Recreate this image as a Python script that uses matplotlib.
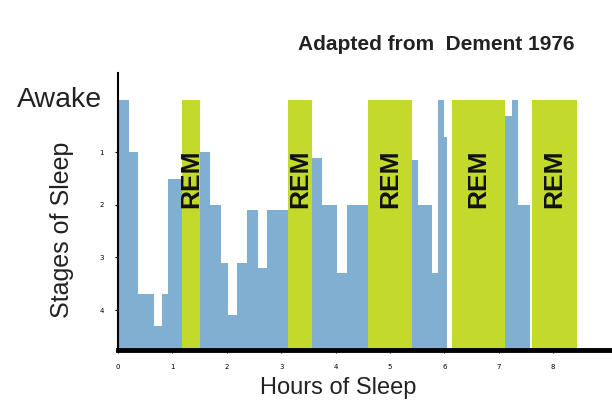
import matplotlib.pyplot as plt
import numpy as np

# sleep stage trace (hours) -- blue bars
nrem_edges = [0.0, 0.2, 0.37, 0.66, 0.81, 0.92, 1.18]
nrem_stage = [0.0, 1.0, 3.7, 4.3, 3.7, 1.5]
nrem_edges2 = [1.51, 1.69, 1.89, 2.02, 2.19, 2.37, 2.57, 2.74, 3.12]
nrem_stage2 = [1.0, 2.0, 3.1, 4.1, 3.1, 2.1, 3.2, 2.1]
nrem_edges3 = [3.57, 3.75, 4.03, 4.21, 4.6]
nrem_stage3 = [1.1, 2.0, 3.3, 2.0]
nrem_edges4 = [5.4, 5.51, 5.77, 5.88, 5.99, 6.05]
nrem_stage4 = [1.15, 2.0, 3.3, 0.0, 0.7]
nrem_edges5 = [7.11, 7.24, 7.35, 7.57]
nrem_stage5 = [0.3, 0.0, 2.0]

# REM periods (start, end)
rem_start = [1.18, 3.12, 4.6, 6.14, 7.61]
rem_end = [1.51, 3.57, 5.4, 7.11, 8.44]

stage_ticks = [0, 1, 2, 3, 4]
stage_labels = ['Awake', '1', '2', '3', '4']
hour_ticks = [0, 1, 2, 3, 4, 5, 6, 7, 8]

BLUE = '#80afd2'
GREEN = '#c3d92b'
BOTTOM = 4.76

fig = plt.figure(figsize=(6.12, 4.03), dpi=100)
ax = fig.add_axes([118/612, 53/403, 1 - 118/612, 277/403])

for edges, stages in [(nrem_edges, nrem_stage), (nrem_edges2, nrem_stage2),
                      (nrem_edges3, nrem_stage3), (nrem_edges4, nrem_stage4),
                      (nrem_edges5, nrem_stage5)]:
    e = np.array(edges)
    s = np.array(stages)
    ax.bar(e[:-1], s - BOTTOM, width=np.diff(e), bottom=BOTTOM, align='edge',
           color=BLUE, linewidth=0)

rs = np.array(rem_start)
re = np.array(rem_end)
ax.bar(rs, 0 - BOTTOM, width=re - rs, bottom=BOTTOM, align='edge', color=GREEN, linewidth=0)
for a, b in zip(rs, re):
    ax.text((a + b) / 2, 1.5, 'REM', rotation=90, ha='center', va='center',
            fontsize=19, fontweight='bold', family='Liberation Sans', color='#111111')

ax.set_xlim(0, 9.08)
ax.set_ylim(BOTTOM, -0.51)

ax.set_yticks(stage_ticks[1:])
ax.set_yticklabels(stage_labels[1:], fontsize=5)
ax.tick_params(axis='y', length=2, width=0.8, pad=8)
ax.text(-0.3, 0, stage_labels[0], ha='right', va='center', fontsize=20.5,
        family='Liberation Sans', color='#222222')

ax.set_xticks(hour_ticks)
ax.set_xticklabels([str(h) for h in hour_ticks], fontsize=5)
ax.tick_params(axis='x', length=2, width=0.8, pad=8)

for side in ['top', 'right']:
    ax.spines[side].set_visible(False)
ax.spines['bottom'].set_linewidth(3.5)
ax.spines['left'].set_linewidth(1.5)

fig.text(338/612, 1 - 388/403, 'Hours of Sleep', ha='center', va='center',
         fontsize=17, family='Liberation Sans', color='#222222')
fig.text(62/612, 1 - 230/403, 'Stages of Sleep', ha='center', va='center', rotation=90,
         fontsize=18, family='Liberation Sans', color='#222222')

fig.text(298/612, 1 - 45/403, 'Adapted from  Dement 1976', ha='left', va='center',
         fontsize=15, fontweight='bold', family='Liberation Sans', color='#222222')

fig.savefig('out.png', dpi=100)
